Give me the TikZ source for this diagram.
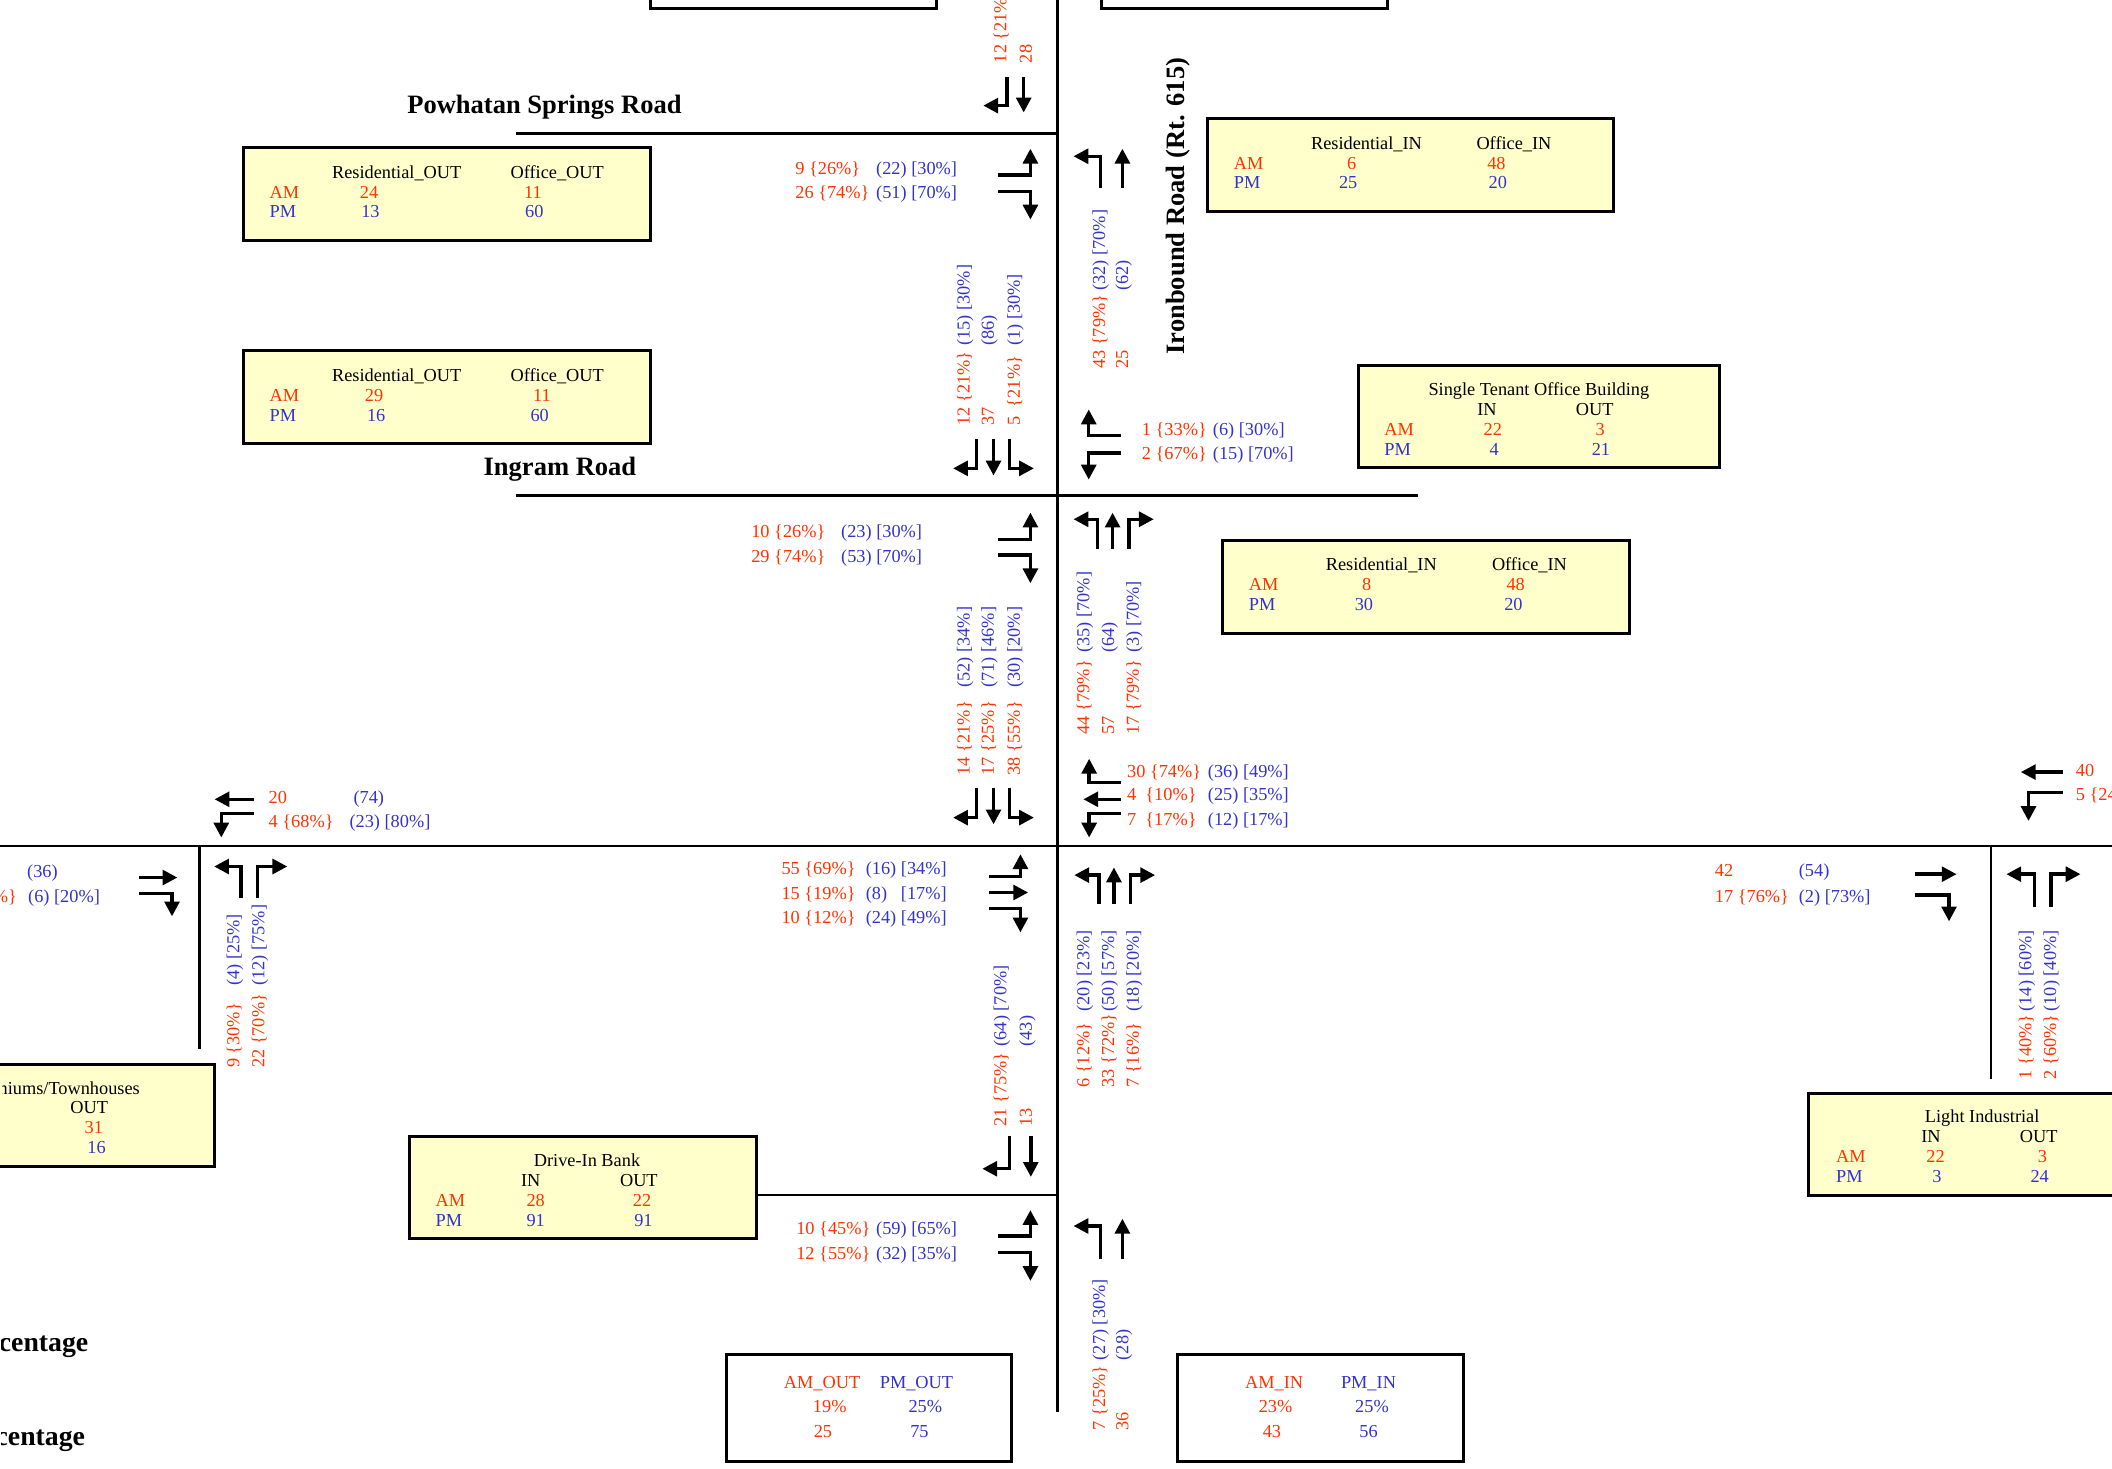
\documentclass[tikz,border=0pt]{standalone}
\usepackage{fontspec}
\setmainfont{Liberation Serif}
\usetikzlibrary{arrows.meta}
\definecolor{amred}{RGB}{255,51,0}
\definecolor{pmblue}{RGB}{51,51,204}
\definecolor{boxfill}{RGB}{255,255,204}
\newcommand\lbfont{\fontsize{13.6}{15}\selectfont}
\newcommand\rdfont{\fontsize{19.7}{22}\selectfont\bfseries}
\newcommand\pcfont{\fontsize{20.6}{22}\selectfont\bfseries}
\tikzset{
  road/.style={line width=1.8pt},
  ybox/.style={draw, line width=2.2pt, fill=boxfill, inner sep=0pt},
  wbox/.style={draw, line width=2.2pt, inner sep=0pt},
  mv/.style={line width=2.5pt, line join=miter, line cap=butt, -{Triangle[length=11pt,width=11pt]}},
  redl/.style={text=amred, inner sep=0pt, font=\lbfont, anchor=base west},
  bluel/.style={text=pmblue, inner sep=0pt, font=\lbfont, anchor=base west},
  redv/.style={redl, rotate=90},
  bluev/.style={bluel, rotate=90},
  hd/.style={inner sep=0pt, font=\lbfont, anchor=base},
  redc/.style={hd, text=amred},
  bluec/.style={hd, text=pmblue},
  roadlbl/.style={inner sep=0pt, font=\rdfont, anchor=base},
}
\begin{document}
\begin{tikzpicture}[x=1pt,y=-1pt]
\useasboundingbox (0,0) rectangle (1568,1090.5);

% ---------------- roads
\draw[road] (785,-5) -- (785,1048);
\draw[road] (383,99) -- (785,99);
\draw[road] (383,368) -- (1053,368);
\draw[road] (-5,628) -- (1575,628);
\draw[road] (148,628) -- (148,779);
\draw[road] (1478,628) -- (1478,801);
\draw[road] (561.9,887) -- (785,887);

% ---------------- boxes
\node[wbox, minimum width=212pt, minimum height=26pt] (top1) at (589,-7) {};
\node[wbox, minimum width=212pt, minimum height=26pt] (top2) at (924,-7) {};
\node[ybox, minimum width=302pt, minimum height=68.9pt] (boxA) at (332,143.85) {};
\node[ybox, minimum width=302pt, minimum height=69.1pt] (boxB) at (332,295.05) {};
\node[ybox, minimum width=301.4pt, minimum height=68.7pt] (boxC) at (1047.3,122.45) {};
\node[ybox, minimum width=268pt, minimum height=76pt] (boxD) at (1142.3,309.4) {};
\node[ybox, minimum width=302pt, minimum height=69.2pt] (boxE) at (1058.6,435.9) {};
\node[ybox, minimum width=268pt, minimum height=76pt] (boxF) at (25,828) {};
\node[ybox, minimum width=257.9pt, minimum height=76.1pt] (boxG) at (432.95,881.55) {};
\node[ybox, minimum width=277pt, minimum height=76pt] (boxH) at (1481.5,849.5) {};
\node[wbox, minimum width=212pt, minimum height=79.5pt] (boxI) at (645.3,1045.05) {};
\node[wbox, minimum width=212pt, minimum height=79.5pt] (boxJ) at (980.3,1045.05) {};

% box A
\node[hd] (aH1) at (294.5,132.2) {Residential\_OUT};
\node[hd] (aH2) at (413.7,132.2) {Office\_OUT};
\node[redl] (aAM) at (200,147) {AM};
\node[bluel] (aPM) at (200,161.8) {PM};
\node[redc] (aR1) at (274,147) {24};
\node[redc] (aR2) at (395.7,147) {11};
\node[bluec] (aB1) at (275,161.8) {13};
\node[bluec] (aB2) at (396.7,161.8) {60};
% box B
\node[hd] (bH1) at (294.5,283) {Residential\_OUT};
\node[hd] (bH2) at (413.7,283) {Office\_OUT};
\node[redl] (bAM) at (200,297.8) {AM};
\node[bluel] (bPM) at (200,312.6) {PM};
\node[redc] (bR1) at (277.7,297.8) {29};
\node[redc] (bR2) at (402.3,297.8) {11};
\node[bluec] (bB1) at (279.3,312.6) {16};
\node[bluec] (bB2) at (400.7,312.6) {60};
% box C
\node[hd] (cH1) at (1014.5,110.7) {Residential\_IN};
\node[hd] (cH2) at (1124,110.7) {Office\_IN};
\node[redl] (cAM) at (915.9,125.5) {AM};
\node[bluel] (cPM) at (915.9,139.8) {PM};
\node[redc] (cR1) at (1003.6,125.5) {6};
\node[redc] (cR2) at (1111,125.5) {48};
\node[bluec] (cB1) at (1000.9,139.8) {25};
\node[bluec] (cB2) at (1112,139.8) {20};
% box D
\node[hd] (dT) at (1142.5,293.4) {Single Tenant Office Building};
\node[hd] (dH1) at (1104,308.2) {IN};
\node[hd] (dH2) at (1184,308.2) {OUT};
\node[redl] (dAM) at (1027.6,323) {AM};
\node[bluel] (dPM) at (1027.6,337.8) {PM};
\node[redc] (dR1) at (1108.3,323) {22};
\node[redc] (dR2) at (1188,323) {3};
\node[bluec] (dB1) at (1109.3,337.8) {4};
\node[bluec] (dB2) at (1188.6,337.8) {21};
% box E
\node[hd] (eH1) at (1025.5,423.9) {Residential\_IN};
\node[hd] (eH2) at (1135.5,423.9) {Office\_IN};
\node[redl] (eAM) at (927,438.7) {AM};
\node[bluel] (ePM) at (927,453.5) {PM};
\node[redc] (eR1) at (1014.6,438.7) {8};
\node[redc] (eR2) at (1125.3,438.7) {48};
\node[bluec] (eB1) at (1012.6,453.5) {30};
\node[bluec] (eB2) at (1123.6,453.5) {20};
% box F (cut by the left edge)
\begin{scope}
\clip (1.5,780) rectangle (170,870);
\node[hd, anchor=base east] (fT) at (104,812.2) {Condominiums/Townhouses};
\end{scope}
\node[hd] (fH2) at (66.3,826.8) {OUT};
\node[redc] (fR2) at (69.7,841.5) {31};
\node[bluec] (fB2) at (71.7,856.5) {16};
% box G
\node[hd] (gT) at (435.8,866.1) {Drive-In Bank};
\node[hd] (gH1) at (394,880.9) {IN};
\node[hd] (gH2) at (474.3,880.9) {OUT};
\node[redl] (gAM) at (323.3,895.7) {AM};
\node[bluel] (gPM) at (323.3,910.5) {PM};
\node[redc] (gR1) at (397.7,895.7) {28};
\node[redc] (gR2) at (476.7,895.7) {22};
\node[bluec] (gB1) at (397.7,910.5) {91};
\node[bluec] (gB2) at (477.7,910.5) {91};
% box H
\node[hd] (hT) at (1471.6,833.2) {Light Industrial};
\node[hd] (hH1) at (1433.6,848) {IN};
\node[hd] (hH2) at (1513.6,848) {OUT};
\node[redl] (hAM) at (1363,862.9) {AM};
\node[bluel] (hPM) at (1363,877.7) {PM};
\node[redc] (hR1) at (1437,862.9) {22};
\node[redc] (hR2) at (1516.3,862.9) {3};
\node[bluec] (hB1) at (1438,877.7) {3};
\node[bluec] (hB2) at (1514.3,877.7) {24};
% box I
\node[redc] (iH1) at (610.3,1030.8) {AM\_OUT};
\node[bluec] (iH2) at (680.4,1030.8) {PM\_OUT};
\node[redc] (iR1) at (616,1048.5) {19\%};
\node[bluec] (iB1) at (687,1048.5) {25\%};
\node[redc] (iR2) at (611,1067.1) {25};
\node[bluec] (iB2) at (682.6,1067.1) {75};
% box J
\node[redc] (jH1) at (945.9,1030.8) {AM\_IN};
\node[bluec] (jH2) at (1016,1030.8) {PM\_IN};
\node[redc] (jR1) at (947,1048.5) {23\%};
\node[bluec] (jB1) at (1018.6,1048.5) {25\%};
\node[redc] (jR2) at (944.3,1067.1) {43};
\node[bluec] (jB2) at (1016,1067.1) {56};

% ---------------- road names
\node[roadlbl] (powhatan) at (404.2,84) {Powhatan Springs Road};
\node[roadlbl] (ingram) at (415.7,352.8) {Ingram Road};
\node[roadlbl, rotate=90] (ironbound) at (879.5,153) {Ironbound Road (Rt. 615)};
\begin{scope}
\clip (1.2,980) rectangle (200,1090);
\node[roadlbl, font=\pcfont, anchor=base east] (pct1) at (65.7,1003.5) {Percentage};
\node[roadlbl, font=\pcfont, anchor=base east] (pct2) at (63.3,1073.5) {Percentage};
\end{scope}

% ---------------- movement arrows
% G1
\draw[mv] (747.6,57) -- (747.6,78.4) -- (730,78.4);
\draw[mv] (760,57) -- (760,83.5);
% G2
\draw[mv] (741,130) -- (765,130) -- (765,110.4);
\draw[mv] (741,142) -- (765,142) -- (765,163);
% G3
\draw[mv] (817,139.5) -- (817,116) -- (797,116);
\draw[mv] (833.3,139.5) -- (833.3,110.4);
% G4
\draw[mv] (725,326) -- (725,347.7) -- (707.6,347.7);
\draw[mv] (737.6,326) -- (737.6,353);
\draw[mv] (749.3,326) -- (749.3,347.7) -- (767.6,347.7);
% G5
\draw[mv] (832,323.5) -- (808.3,323.5) -- (808.3,304);
\draw[mv] (832,336.3) -- (808.3,336.3) -- (808.3,356);
% G6
\draw[mv] (741,400.3) -- (765,400.3) -- (765,380.6);
\draw[mv] (741,412) -- (765,412) -- (765,433);
% G7
\draw[mv] (814.6,407.8) -- (814.6,385.5) -- (797,385.5);
\draw[mv] (826,407.8) -- (826,380.6);
\draw[mv] (838.3,407.8) -- (838.3,385.5) -- (856.6,385.5);
% G8
\draw[mv] (725,584.8) -- (725,607) -- (707.6,607);
\draw[mv] (737.6,584.8) -- (737.6,612);
\draw[mv] (749.3,584.8) -- (749.3,607) -- (767.6,607);
% G9
\draw[mv] (832,581) -- (808.6,581) -- (808.6,563.3);
\draw[mv] (832,593.4) -- (804.3,593.4);
\draw[mv] (832,603.8) -- (808.6,603.8) -- (808.6,621.8);
% G10
\draw[mv] (734.3,650.7) -- (757.6,650.7) -- (757.6,634.2);
\draw[mv] (734.3,662.6) -- (763.3,662.6);
\draw[mv] (734.3,674.4) -- (757.6,674.4) -- (757.6,692.2);
% G11
\draw[mv] (816,671.2) -- (816,649.7) -- (797.6,649.7);
\draw[mv] (827,671.2) -- (827,644);
\draw[mv] (839.3,671.2) -- (839.3,649.7) -- (857.6,649.7);
% G12
\draw[mv] (749.3,843.5) -- (749.3,867.7) -- (729.3,867.7);
\draw[mv] (765.3,843.5) -- (765.3,873.7);
% G13
\draw[mv] (741,917.6) -- (765,917.6) -- (765,898.4);
\draw[mv] (741,930) -- (765,930) -- (765,951);
% G14
\draw[mv] (817,934.4) -- (817,910.2) -- (797,910.2);
\draw[mv] (833.3,934.4) -- (833.3,904.8);
% left intersection
\draw[mv] (188.3,593.4) -- (159.3,593.4);
\draw[mv] (188.3,603.8) -- (164.3,603.8) -- (164.3,621.8);
\draw[mv] (103.3,651.5) -- (131.7,651.5);
\draw[mv] (103.3,663.3) -- (127.7,663.3) -- (127.7,680.3);
\draw[mv] (179,667) -- (179,643.3) -- (159,643.3);
\draw[mv] (191,667) -- (191,643.3) -- (213.3,643.3);
% right intersection
\draw[mv] (1531.3,573.2) -- (1500.3,573.2);
\draw[mv] (1531.3,588.5) -- (1506,588.5) -- (1506,609.5);
\draw[mv] (1422,649) -- (1452.6,649);
\draw[mv] (1422,664.5) -- (1447,664.5) -- (1447,684);
\draw[mv] (1510.3,673) -- (1510.3,649) -- (1489.6,649);
\draw[mv] (1522.6,673) -- (1522.6,649) -- (1544.6,649);

% ---------------- horizontal volume labels
\node[redl] (g2r1) at (590.3,129.2) {9 \{26\%\}};
\node[bluel] (g2b1) at (650.3,129.2) {(22) [30\%]};
\node[redl] (g2r2) at (590.3,147.2) {26 \{74\%\}};
\node[bluel] (g2b2) at (650.3,147.2) {(51) [70\%]};

\node[redl] (g5r1) at (847.6,323) {1 \{33\%\}};
\node[bluel] (g5b1) at (900.3,323) {(6) [30\%]};
\node[redl] (g5r2) at (847.6,340.8) {2 \{67\%\}};
\node[bluel] (g5b2) at (900.3,340.8) {(15) [70\%]};

\node[redl] (g6r1) at (557.6,399.2) {10 \{26\%\}};
\node[bluel] (g6b1) at (624.3,399.2) {(23) [30\%]};
\node[redl] (g6r2) at (557.6,417.7) {29 \{74\%\}};
\node[bluel] (g6b2) at (624.3,417.7) {(53) [70\%]};

\node[redl] (g9r1) at (836.6,576.9) {30 \{74\%\}};
\node[bluel] (g9b1) at (896.6,576.9) {(36) [49\%]};
\node[redl] (g9r2) at (836.6,594.2) {4~ \{10\%\}};
\node[bluel] (g9b2) at (896.6,594.2) {(25) [35\%]};
\node[redl] (g9r3) at (836.6,612.7) {7~ \{17\%\}};
\node[bluel] (g9b3) at (896.6,612.7) {(12) [17\%]};

\node[redl] (g10r1) at (580,649.3) {55 \{69\%\}};
\node[bluel] (g10b1) at (642.6,649.3) {(16) [34\%]};
\node[redl] (g10r2) at (580,667.5) {15 \{19\%\}};
\node[bluel] (g10b2) at (642.6,667.5) {(8)\phantom{0} [17\%]};
\node[redl] (g10r3) at (580,685.6) {10 \{12\%\}};
\node[bluel] (g10b3) at (642.6,685.6) {(24) [49\%]};

\node[redl] (g13r1) at (591,916.7) {10 \{45\%\}};
\node[bluel] (g13b1) at (650.3,916.7) {(59) [65\%]};
\node[redl] (g13r2) at (591,935.2) {12 \{55\%\}};
\node[bluel] (g13b2) at (650.3,935.2) {(32) [35\%]};

\node[redl] (lwr1) at (199.3,596.7) {20};
\node[bluel] (lwb1) at (262.3,596.7) {(74)};
\node[redl] (lwr2) at (199.3,614.5) {4 \{68\%\}};
\node[bluel] (lwb2) at (259.3,614.5) {(23) [80\%]};
\node[bluel] (leb1) at (20,651.8) {(36)};
\node[redl, anchor=base east] (ler2) at (12.7,670) {4 \{80\%\}};
\node[bluel] (leb2) at (20.7,670) {(6) [20\%]};

\node[redl] (rwr1) at (1541,576.5) {40};
\node[redl] (rwr2) at (1541,594.2) {5 \{24\%\}};
\node[redl] (rer1) at (1273,651) {42};
\node[bluel] (reb1) at (1335.3,651) {(54)};
\node[redl] (rer2) at (1273,670) {17 \{76\%\}};
\node[bluel] (reb2) at (1335.3,670) {(2) [73\%]};

% ---------------- vertical volume labels
\node[redv] (g1r1) at (747.1,47) {12 \{21\%\}};
\node[redv] (g1r2) at (766.1,47) {28};

\node[redv] (g3r1) at (820.5,274) {43 \{79\%\}};
\node[bluev] (g3b1) at (820.5,216) {(32) [70\%]};
\node[redv] (g3r2) at (837.5,274) {25};
\node[bluev] (g3b2) at (837.5,216) {(62)};

\node[redv] (g4r1) at (719.8,316) {12 \{21\%\}};
\node[bluev] (g4b1) at (719.8,256.8) {(15) [30\%]};
\node[redv] (g4r2) at (737.8,316) {37};
\node[bluev] (g4b2) at (737.8,256.8) {(86)};
\node[redv] (g4r3) at (757.1,316) {5~ \{21\%\}};
\node[bluev] (g4b3) at (757.1,256.8) {(1) [30\%]};

\node[redv] (g7r1) at (808.8,545.3) {44 \{79\%\}};
\node[bluev] (g7b1) at (808.8,484.8) {(35) [70\%]};
\node[redv] (g7r2) at (827.1,545.3) {57};
\node[bluev] (g7b2) at (827.1,484.8) {(64)};
\node[redv] (g7r3) at (845.5,545.3) {17 \{79\%\}};
\node[bluev] (g7b3) at (845.5,484.8) {(3) [70\%]};

\node[redv] (g8r1) at (719.8,575.7) {14 \{21\%\}};
\node[bluev] (g8b1) at (719.8,510.7) {(52) [34\%]};
\node[redv] (g8r2) at (737.8,575.7) {17 \{25\%\}};
\node[bluev] (g8b2) at (737.8,510.7) {(71) [46\%]};
\node[redv] (g8r3) at (757.1,575.7) {38 \{55\%\}};
\node[bluev] (g8b3) at (757.1,510.7) {(30) [20\%]};

\node[redv] (g11r1) at (808.8,807.7) {6 \{12\%\}};
\node[bluev] (g11b1) at (808.8,751) {(20) [23\%]};
\node[redv] (g11r2) at (827.1,807.7) {33 \{72\%\}};
\node[bluev] (g11b2) at (827.1,751) {(50) [57\%]};
\node[redv] (g11r3) at (845.5,807.7) {7 \{16\%\}};
\node[bluev] (g11b3) at (845.5,751) {(18) [20\%]};

\node[redv] (g12r1) at (747.1,836.5) {21 \{75\%\}};
\node[bluev] (g12b1) at (747.1,777) {(64) [70\%]};
\node[redv] (g12r2) at (766.1,836.5) {13};
\node[bluev] (g12b2) at (766.1,777) {(43)};

\node[redv] (g14r1) at (820.5,1062) {7 \{25\%\}};
\node[bluev] (g14b1) at (820.5,1010) {(27) [30\%]};
\node[redv] (g14r2) at (837.8,1062) {36};
\node[bluev] (g14b2) at (837.8,1010) {(28)};

\node[redv] (lnr1) at (177.8,793) {9 \{30\%\}};
\node[bluev] (lnb1) at (177.8,732) {(4) [25\%]};
\node[redv] (lnr2) at (196.2,793) {22 \{70\%\}};
\node[bluev] (lnb2) at (196.2,732) {(12) [75\%]};

\node[redv] (rnr1) at (1508.1,801.6) {1 \{40\%\}};
\node[bluev] (rnb1) at (1508.1,751) {(14) [60\%]};
\node[redv] (rnr2) at (1526.5,801.6) {2 \{60\%\}};
\node[bluev] (rnb2) at (1526.5,751) {(10) [40\%]};
\end{tikzpicture}
\end{document}
